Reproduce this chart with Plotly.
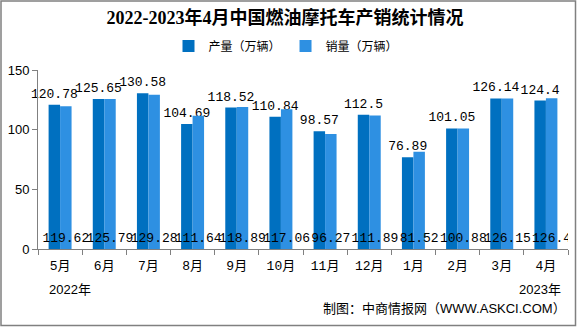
import plotly.graph_objects as go

months = ["5月", "6月", "7月", "8月", "9月", "10月", "11月", "12月", "1月", "2月", "3月", "4月"]
production = [120.78, 125.65, 130.58, 104.69, 118.52, 110.84, 98.57, 112.5, 76.89, 101.05, 126.14, 124.4]
sales = [119.62, 125.79, 129.28, 111.64, 118.89, 117.06, 96.27, 111.89, 81.52, 100.88, 126.15, 126.4]
y_ticks = [0, 50, 100, 150]

W, H = 584, 327
L, R, T, B = 38, 568, 70, 249

num_font = "Liberation Mono, DejaVu Sans Mono, monospace"
cjk_font = "Liberation Serif, Noto Sans CJK SC, sans-serif"

fig = go.Figure()
fig.add_trace(go.Bar(
    name="产量（万辆）", x=months, y=production,
    marker=dict(color="#0070C0", line=dict(width=0)),
    text=[f"{v:g}" for v in production], textposition="outside", textangle=0,
    constraintext="none", cliponaxis=False,
    textfont=dict(family=num_font, size=13, color="black"),
    outsidetextfont=dict(family=num_font, size=13, color="black"),
))
fig.add_trace(go.Bar(
    name="销量（万辆）", x=months, y=sales,
    marker=dict(color="#2E90E2", line=dict(width=0)),
    text=[f"{v:g}" for v in sales], textposition="inside", insidetextanchor="start",
    textangle=0, constraintext="none",
    textfont=dict(family=num_font, size=13, color="black"),
    insidetextfont=dict(family=num_font, size=13, color="black"),
))

def px_x(px):
    return (px - L) / (R - L)

def px_y(py):
    return (B - py) / (B - T)

fig.update_layout(
    width=W, height=H,
    margin=dict(l=L, r=W - R, t=T, b=H - B, autoexpand=False),
    paper_bgcolor="white", plot_bgcolor="white",
    barmode="group", bargap=0.48, bargroupgap=0,
    title=dict(text="<b>2022-2023年4月中国燃油摩托车产销统计情况</b>",
               x=0.488, xref="container", xanchor="center",
               y=1 - 18 / H, yref="container", yanchor="middle",
               font=dict(family=cjk_font, size=18, color="black")),
    legend=dict(orientation="h", x=px_x(286), xref="paper", xanchor="center",
                y=px_y(46), yref="paper", yanchor="middle",
                font=dict(family="Noto Sans CJK SC", size=12, color="black"),
                itemwidth=30, bgcolor="rgba(0,0,0,0)"),
    showlegend=True,
    xaxis=dict(type="category", tickson="boundaries", ticks="outside", ticklen=5,
               tickcolor="#808080", showline=True, linecolor="#808080", linewidth=1,
               showgrid=False, ticklabelstandoff=4,
               tickfont=dict(family="Liberation Mono, Noto Sans CJK SC", size=13, color="black")),
    yaxis=dict(range=[0, 150], tickvals=y_ticks, ticks="outside", ticklen=5,
               tickcolor="#808080", showline=True, linecolor="#808080", linewidth=1,
               showgrid=False, zeroline=False,
               tickfont=dict(family="Liberation Sans, Arial", size=13, color="black")),
    annotations=[
        dict(text="2022年", xref="paper", yref="paper", x=px_x(70), y=px_y(289),
             showarrow=False, xanchor="center", yanchor="middle",
             font=dict(family="Liberation Sans, Noto Sans CJK SC", size=13, color="black")),
        dict(text="2023年", xref="paper", yref="paper", x=px_x(540), y=px_y(289),
             showarrow=False, xanchor="center", yanchor="middle",
             font=dict(family="Liberation Sans, Noto Sans CJK SC", size=13, color="black")),
        dict(text="制图：中商情报网（WWW.ASKCI.COM）", xref="paper", yref="paper",
             x=px_x(568), y=px_y(308), showarrow=False, xanchor="right", yanchor="middle",
             font=dict(family="Liberation Sans, Noto Sans CJK SC", size=13, color="black")),
    ],
    shapes=[
        dict(type="rect", xref="paper", yref="paper",
             x0=px_x(1), x1=px_x(575.5), y0=px_y(325.5), y1=px_y(1),
             line=dict(color="#808080", width=1.5), fillcolor="rgba(0,0,0,0)"),
    ],
)

fig.write_html("out.html")
